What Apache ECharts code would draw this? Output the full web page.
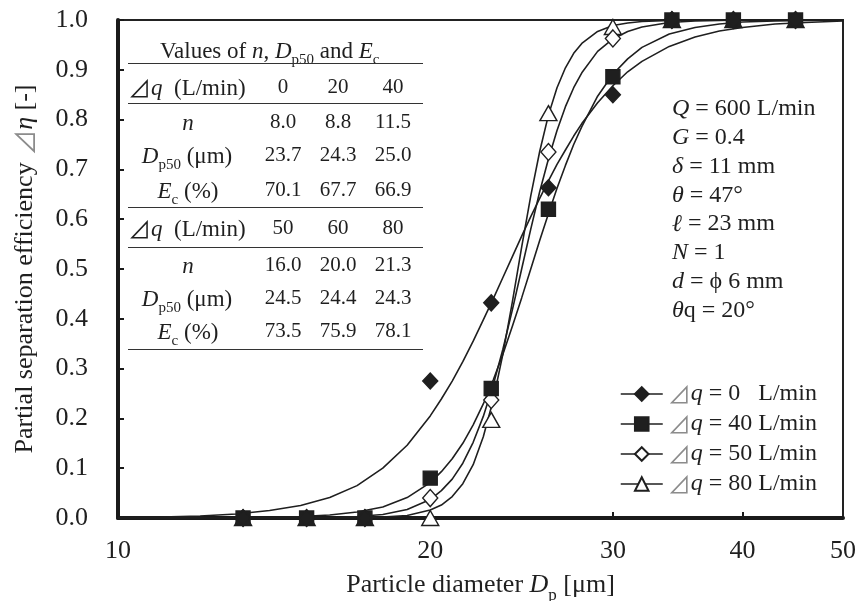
<!DOCTYPE html>
<html>
<head>
<meta charset="utf-8">
<script src="https://cdn.jsdelivr.net/npm/echarts@6/dist/echarts.min.js"></script>
<style>
  html, body { margin: 0; padding: 0; background: #fff; }
  #chart { width: 860px; height: 601px; }
</style>
</head>
<body>
<div id="chart"></div>
<script>
// Measured particle sizes (µm) and partial separation efficiencies
const sizes = [13.2, 15.2, 17.3, 20, 22.9, 26.0, 30, 34.2, 39.2, 45];
const eff0  = [0, 0, 0, 0.275, 0.432, 0.663, 0.850, 1.0, 1.0, 1.0];
const eff40 = [0, 0, 0, 0.080, 0.260, 0.620, 0.886, 1.0, 1.0, 1.0];
const eff50 = [0, 0, 0, 0.040, 0.237, 0.735, 0.963, 1.0, 1.0, 1.0];
const eff80 = [0, 0, 0, 0.000, 0.197, 0.813, 0.986, 1.0, 1.0, 1.0];

// Fitted efficiency curves
const curveX = [10, 11, 12, 13, 14, 15, 16, 17, 18, 19,
  20, 20.5, 21, 21.5, 22, 22.5, 23, 23.5, 24, 24.5, 25, 25.5, 26, 26.5, 27, 27.5, 28,
  29, 30, 31, 32, 34, 36, 38, 40, 43, 46, 50];
const fit0 = [0.001, 0.002, 0.004, 0.008, 0.015, 0.025, 0.041, 0.065, 0.100, 0.146,
  0.205, 0.239, 0.275, 0.314, 0.355, 0.398, 0.440, 0.483, 0.525, 0.566, 0.605, 0.642, 0.677, 0.710, 0.739, 0.767, 0.792,
  0.834, 0.868, 0.896, 0.917, 0.947, 0.966, 0.978, 0.985, 0.992, 0.995, 0.998];
const fit40 = [0.000, 0.000, 0.000, 0.001, 0.001, 0.003, 0.006, 0.012, 0.022, 0.041,
  0.071, 0.093, 0.119, 0.150, 0.187, 0.229, 0.277, 0.329, 0.385, 0.442, 0.500, 0.557, 0.611, 0.662, 0.708, 0.750, 0.786,
  0.847, 0.891, 0.922, 0.945, 0.972, 0.985, 0.992, 0.996, 0.998, 0.999, 1.000];
const fit50 = [0.000, 0.000, 0.000, 0.000, 0.000, 0.000, 0.001, 0.003, 0.007, 0.017,
  0.037, 0.055, 0.078, 0.110, 0.152, 0.204, 0.267, 0.339, 0.418, 0.500, 0.580, 0.655, 0.721, 0.778, 0.826, 0.864, 0.894,
  0.937, 0.962, 0.977, 0.986, 0.995, 0.998, 0.999, 1.000, 1.000, 1.000, 1.000];
const fit80 = [0.000, 0.000, 0.000, 0.000, 0.000, 0.000, 0.000, 0.000, 0.002, 0.005,
  0.016, 0.026, 0.043, 0.069, 0.107, 0.163, 0.237, 0.329, 0.434, 0.544, 0.647, 0.736, 0.809, 0.864, 0.904, 0.933, 0.953,
  0.977, 0.989, 0.994, 0.997, 0.999, 1.000, 1.000, 1.000, 1.000, 1.000, 1.000];

// Axis tick labels
const xTickLabels = [10, 20, 30, 40, 50];
const xInnerTicks = [20, 30, 40];

// Legend entries (flow rate difference)
const flowLabels = ['0   L/min', '40 L/min', '50 L/min', '80 L/min'];

// Fit parameter table
const flowsA = ['0', '20', '40'];
const nA     = ['8.0', '8.8', '11.5'];
const dA     = ['23.7', '24.3', '25.0'];
const ecA    = ['70.1', '67.7', '66.9'];
const flowsB = ['50', '60', '80'];
const nB     = ['16.0', '20.0', '21.3'];
const dB     = ['24.5', '24.4', '24.3'];
const ecB    = ['73.5', '75.9', '78.1'];

// Operating conditions
const conditions = [
  ['Q', ' = 600 L/min'],
  ['G', ' = 0.4'],
  ['δ', ' = 11 mm'],
  ['θ', ' = 47°'],
  ['ℓ', ' = 23 mm'],
  ['N', ' = 1'],
  ['d', ' = ϕ 6 mm'],
  ['θ', 'q = 20°']
];

const FONT = "'Liberation Serif', 'Times New Roman', 'DejaVu Serif', serif";
const TRI_FONT = "'Noto Sans CJK JP', 'DejaVu Sans', sans-serif";
const INK = '#1f1f1f';
const GRAY_TRI = '#8c8c8c';

function richSet(size, lh, triSize, subDrop) {
  const sub = Math.round(size * 0.66);
  const drop = subDrop != null ? subDrop : Math.round(lh * 0.62);
  return {
    r: { fontFamily: FONT, fontSize: size, color: INK, lineHeight: lh, verticalAlign: 'top' },
    i: { fontFamily: FONT, fontSize: size, fontStyle: 'italic', color: INK, lineHeight: lh, verticalAlign: 'top' },
    d: { fontFamily: FONT, fontSize: 21, color: INK, lineHeight: lh, verticalAlign: 'top' },
    s: { fontFamily: FONT, fontSize: sub, color: INK, lineHeight: sub, verticalAlign: 'bottom', padding: [drop, 0, 0, 0] },
    g: { fontFamily: TRI_FONT, fontSize: triSize || size, color: GRAY_TRI, lineHeight: lh, verticalAlign: 'top' }
  };
}

const tableRich = richSet(23, 28, 23);
const axisRich = richSet(26, 32, 26, 15);

const chart = echarts.init(document.getElementById('chart'), null, { renderer: 'canvas' });

const groups = [
  { data: eff0, fit: fit0, symbol: 'diamond', size: [15, 16], fill: INK },
  { data: eff40, fit: fit40, symbol: 'rect', size: [14, 14], fill: INK },
  { data: eff50, fit: fit50, symbol: 'diamond', size: [15, 17], fill: '#ffffff' },
  { data: eff80, fit: fit80, symbol: 'triangle', size: [17, 15], fill: '#ffffff' }
];

const curveSeries = groups.map((g, k) => ({
  name: 'fit' + k,
  type: 'line',
  data: curveX.map((x, i) => [x, g.fit[i]]),
  showSymbol: false,
  smooth: false,
  lineStyle: { color: INK, width: 1.6 },
  z: 3,
  silent: true
}));

const markerSeries = groups.map((g, k) => ({
  name: flowLabels[k],
  type: 'line',
  data: sizes.map((x, i) => [x, g.data[i]]),
  symbol: g.symbol,
  symbolSize: g.size,
  showAllSymbol: true,
  lineStyle: { opacity: 0, width: 0 },
  itemStyle: { color: g.fill, borderColor: INK, borderWidth: 1.4, opacity: 1 },
  z: 10 - k
}));

// Table of fit parameters, drawn as text rows and rules
const tableLeft = 128, tableRight = 423;
const colX = [283, 338, 393];
const labelX = 188;
const dy = 4;
const graphics = [];
function hline(y) {
  graphics.push({ type: 'line', shape: { x1: tableLeft, y1: y, x2: tableRight, y2: y },
    style: { stroke: '#333', lineWidth: 1.1 }, silent: true });
}
function rtext(x, yc, text, align, rich) {
  graphics.push({ type: 'text', x: x, y: yc - 14 + dy,
    style: { text: text, align: align, verticalAlign: 'top', rich: rich, fontFamily: FONT, fontSize: 21, fill: INK },
    silent: true });
}
function valueRow(yc, vals) {
  vals.forEach((v, j) => rtext(colX[j], yc, '{d|' + v + '}', 'center', tableRich));
}

rtext(160, 50, '{r|Values of }{i|n}{r|, }{i|D}{s|p50}{r| and }{i|E}{s|c}', 'left', tableRich);
hline(63.5);
rtext(tableLeft, 87, '{g|⊿}{i|q}{r|  (L/min)}', 'left', tableRich);
valueRow(87, flowsA);
hline(103.5);
rtext(labelX, 122, '{i|n}', 'center', tableRich);
valueRow(122, nA);
rtext(labelX - 1, 155, '{i|D}{s|p50}{r| (μm)}', 'center', tableRich);
valueRow(155, dA);
rtext(labelX, 190, '{i|E}{s|c}{r| (%)}', 'center', tableRich);
valueRow(190, ecA);
hline(207.5);
rtext(tableLeft, 228, '{g|⊿}{i|q}{r|  (L/min)}', 'left', tableRich);
valueRow(228, flowsB);
hline(247.5);
rtext(labelX, 265, '{i|n}', 'center', tableRich);
valueRow(265, nB);
rtext(labelX - 1, 298, '{i|D}{s|p50}{r| (μm)}', 'center', tableRich);
valueRow(298, dB);
rtext(labelX, 331, '{i|E}{s|c}{r| (%)}', 'center', tableRich);
valueRow(331, ecB);
hline(349.5);

// Operating conditions block
graphics.push({
  type: 'text', x: 672, y: 97,
  style: {
    text: conditions.map(c => '{i|' + c[0] + '}{r|' + c[1] + '}').join('\n'),
    rich: richSet(24, 28.8), fontFamily: FONT, fontSize: 24, fill: INK, lineHeight: 28.8
  },
  silent: true
});

const option = {
  animation: false,
  backgroundColor: '#ffffff',
  grid: {
    left: 118, right: 17, top: 20, bottom: 83,
    outerBoundsMode: 'none',
    containLabel: false,
    show: true, borderColor: '#222', borderWidth: 2, backgroundColor: 'transparent'
  },
  xAxis: {
    type: 'log',
    logBase: 10,
    min: 10,
    max: 50,
    name: '{r|Particle diameter }{i|D}{s|p}{r| [μm]}',
    nameLocation: 'middle',
    nameGap: 54,
    nameTextStyle: { rich: axisRich, fontFamily: FONT, fontSize: 26, color: INK },
    axisLine: { show: true, onZero: false, lineStyle: { color: '#1a1a1a', width: 4 } },
    axisTick: { show: true, inside: true, length: 6, lineStyle: { color: '#1a1a1a', width: 2 }, customValues: xInnerTicks },
    axisLabel: { customValues: xTickLabels, margin: 20, fontFamily: FONT, fontSize: 26, color: INK,
      formatter: v => String(Math.round(v)) },
    splitLine: { show: false },
    minorTick: { show: false }
  },
  yAxis: {
    type: 'value',
    min: 0,
    max: 1,
    interval: 0.1,
    name: '{r|Partial separation efficiency }{g|⊿}{i|η}{r| [-]}',
    nameLocation: 'middle',
    nameGap: 74,
    nameTextStyle: { rich: axisRich, fontFamily: FONT, fontSize: 26, color: INK },
    axisLine: { show: true, lineStyle: { color: '#1a1a1a', width: 4 } },
    axisTick: { show: true, inside: true, length: 6, lineStyle: { color: '#1a1a1a', width: 2 } },
    axisLabel: { margin: 30, fontFamily: FONT, fontSize: 26, color: INK, formatter: v => v.toFixed(1) },
    splitLine: { show: false }
  },
  legend: {
    orient: 'vertical',
    left: 620,
    top: 382,
    padding: 0,
    itemWidth: 42,
    itemHeight: 17,
    itemGap: 6,
    data: flowLabels,
    selectedMode: false,
    lineStyle: { color: INK, width: 1.5, opacity: 1, type: 'solid' },
    formatter: name => '{g|⊿}{i|q}{r| = ' + name + '}',
    textStyle: {
      fontFamily: FONT, fontSize: 24, color: INK, lineHeight: 24,
      rich: {
        r: { fontFamily: FONT, fontSize: 24, color: INK, lineHeight: 24 },
        i: { fontFamily: FONT, fontSize: 24, fontStyle: 'italic', color: INK, lineHeight: 24 },
        g: { fontFamily: TRI_FONT, fontSize: 23, color: GRAY_TRI, lineHeight: 24 }
      }
    }
  },
  graphic: graphics,
  series: curveSeries.concat(markerSeries)
};

chart.setOption(option);
</script>
</body>
</html>
